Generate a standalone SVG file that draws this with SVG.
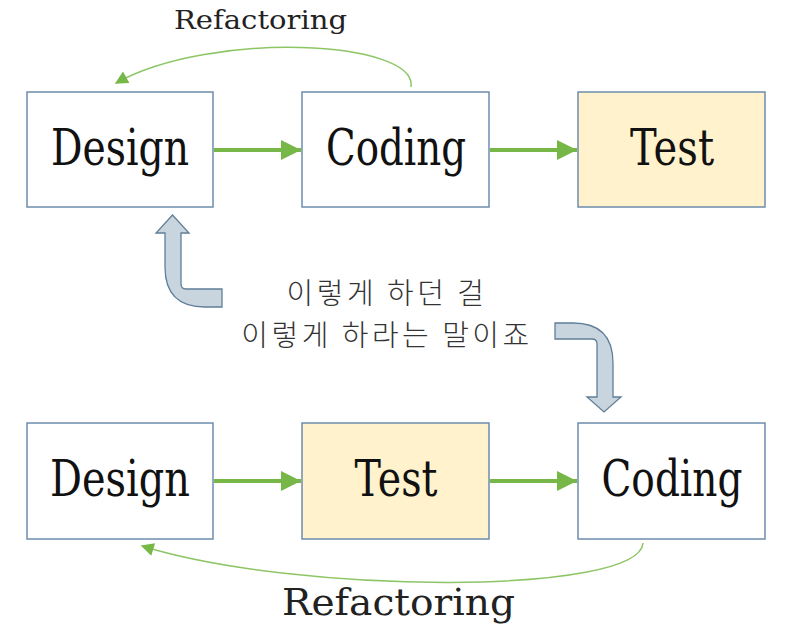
<svg xmlns="http://www.w3.org/2000/svg" width="800" height="629" viewBox="0 0 800 629">
<style>
.box{fill:#ffffff;stroke:#6d8cad;stroke-width:1.5}
.hl{fill:#fff2cc}
.lbl{font-family:"DejaVu Serif","Liberation Serif",serif;font-size:50px;fill:#111;text-anchor:middle}
.ref{font-family:"DejaVu Serif","Liberation Serif",serif;fill:#222}
.ko{font-family:"Noto Sans CJK KR","Noto Sans",sans-serif;font-size:29px;fill:#333;text-anchor:middle;font-weight:300;letter-spacing:3.5px}
.fl{stroke:#77b748;stroke-width:4;fill:none}
.arc{stroke:#8dc566;stroke-width:1.5;fill:none}
.blk{fill:#c9d5de;stroke:#5f7f99;stroke-width:1.3}
</style>
<defs>
<marker id="ah" viewBox="0 0 10 10" refX="10" refY="5" markerWidth="5.5" markerHeight="5" markerUnits="strokeWidth" orient="auto">
<path d="M0,0 L10,5 L0,10 Z" fill="#77b748"/>
</marker>
<marker id="ah2" viewBox="0 0 10 10" refX="9" refY="5" markerWidth="16" markerHeight="13" markerUnits="userSpaceOnUse" orient="auto">
<path d="M0,0 L10,5 L0,10 Z" fill="#77b748"/>
</marker>
</defs>
<g id="connectors">
<line class="fl" x1="214" y1="150" x2="301" y2="150" marker-end="url(#ah)"/>
<line class="fl" x1="490" y1="150" x2="577" y2="150" marker-end="url(#ah)"/>
<line class="fl" x1="214" y1="481" x2="301" y2="481" marker-end="url(#ah)"/>
<line class="fl" x1="490" y1="481" x2="577" y2="481" marker-end="url(#ah)"/>
<path class="arc" d="M411,87 C418,40 210,30 116,83" marker-end="url(#ah2)"/>
<text class="ref" x="260.5" y="29" font-size="26" text-anchor="middle" textLength="173" lengthAdjust="spacingAndGlyphs">Refactoring</text>
<path class="arc" d="M643,543 C640,595 300,595 142,546" marker-end="url(#ah2)"/>
<text class="ref" x="398.5" y="615" font-size="37" text-anchor="middle" textLength="233" lengthAdjust="spacingAndGlyphs">Refactoring</text>
</g>
<g id="arrow-up">
<path class="blk" d="M172.5,215 L189,233 L181,233 L181,284 Q181,289 186,289 L222,289 L222,307 L205,307 Q165,307 165,267 L165,233 L156,233 Z"/>
</g>
<g id="arrow-down">
<path class="blk" d="M555,323 L573,323 Q613,323 613,363 L613,397 L621,397 L604,412 L587,397 L597,397 L597,344 Q597,339 592,339 L555,339 Z"/>
</g>
<g id="caption">
<text class="ko" x="387" y="304">이렇게 하던 걸</text>
<text class="ko" x="387" y="346">이렇게 하라는 말이죠</text>
</g>
<g id="top-design">
<rect class="box" x="27" y="92" width="186" height="115"/>
<text class="lbl" x="120" y="165" textLength="138" lengthAdjust="spacingAndGlyphs">Design</text>
</g>
<g id="top-coding">
<rect class="box" x="302" y="92" width="187" height="115"/>
<text class="lbl" x="396" y="165" textLength="140" lengthAdjust="spacingAndGlyphs">Coding</text>
</g>
<g id="top-test">
<rect class="box hl" x="578" y="92" width="187" height="115"/>
<text class="lbl" x="672" y="165" textLength="84" lengthAdjust="spacingAndGlyphs">Test</text>
</g>
<g id="bottom-design">
<rect class="box" x="27" y="423" width="186" height="116"/>
<text class="lbl" x="120" y="496" textLength="140" lengthAdjust="spacingAndGlyphs">Design</text>
</g>
<g id="bottom-test">
<rect class="box hl" x="302" y="423" width="187" height="116"/>
<text class="lbl" x="396" y="496" textLength="83" lengthAdjust="spacingAndGlyphs">Test</text>
</g>
<g id="bottom-coding">
<rect class="box" x="578" y="423" width="187" height="116"/>
<text class="lbl" x="672" y="496" textLength="141" lengthAdjust="spacingAndGlyphs">Coding</text>
</g>
</svg>
